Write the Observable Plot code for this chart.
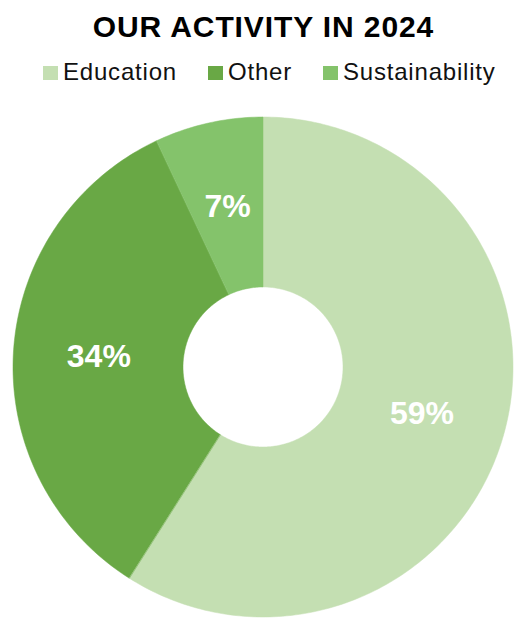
<!DOCTYPE html>
<html>
<head>
<meta charset="utf-8">
<script src="https://cdn.jsdelivr.net/npm/d3@7"></script>
<script src="https://cdn.jsdelivr.net/npm/@observablehq/plot@0.6"></script>
<style>
  html, body { margin: 0; padding: 0; background: #fff; }
  body { width: 515px; font-family: "Liberation Sans", Arial, Helvetica, sans-serif; }
  #title { padding-top: 10px; height: 34px; line-height: 34px; font-size: 30px; font-weight: bold; text-align: center; color: #000; padding-left: 12px; letter-spacing: 0.9px; }
  #legend { margin-top: 14px; height: 28px; line-height: 28px; font-size: 24px; color: #111; display: flex; justify-content: flex-start; padding-left: 43px; letter-spacing: 0.8px; }
  .item { display: flex; align-items: center; margin-right: 31px; }
  .sw { width: 15px; height: 14px; margin-right: 5px; margin-top: 2px; }
  #chart svg { display: block; }
</style>
</head>
<body>
<div id="title">OUR ACTIVITY IN 2024</div>
<div id="legend"></div>
<div id="chart"></div>
<script>
const categories = ["Education", "Other", "Sustainability"];
const values = [59, 34, 7];
const labels = ["59%", "34%", "7%"];
const colors = ["#c4dfb2", "#69a845", "#84c36b"];

const W = 515, H = 534;
const cx = 263, cy = 281, R = 250, r = 80;

// legend
const legend = document.getElementById("legend");
categories.forEach((c, i) => {
  const it = document.createElement("div");
  it.className = "item";
  const sw = document.createElement("div");
  sw.className = "sw";
  sw.style.background = colors[i];
  const tx = document.createElement("span");
  tx.textContent = c;
  it.appendChild(sw); it.appendChild(tx);
  legend.appendChild(it);
});

// build slices
const total = d3.sum(values);
let acc = 0;
const ringPts = [];
const labelPts = [];
categories.forEach((c, i) => {
  const a0 = acc / total * 2 * Math.PI;
  acc += values[i];
  const a1 = acc / total * 2 * Math.PI;
  const n = Math.max(8, Math.ceil((a1 - a0) / (2 * Math.PI) * 360));
  for (let k = 0; k <= n; k++) {
    const a = a0 + (a1 - a0) * k / n;
    ringPts.push({
      cat: c,
      xo: cx + R * Math.sin(a), yo: cy - R * Math.cos(a),
      xi: cx + r * Math.sin(a), yi: cy - r * Math.cos(a)
    });
  }
  const am = (a0 + a1) / 2, rm = (R + r) / 2;
  labelPts.push({cat: c, label: labels[i], x: cx + rm * Math.sin(am), y: cy - rm * Math.cos(am)});
});

const plot = Plot.plot({
  width: W, height: H, margin: 0,
  x: {domain: [0, W], range: [0, W], axis: null},
  y: {domain: [0, H], range: [0, H], axis: null},
  color: {domain: categories, range: colors},
  marks: [
    Plot.area(ringPts, {x1: "xo", y1: "yo", x2: "xi", y2: "yi", z: "cat", fill: "cat", stroke: "cat", strokeWidth: 0.5, curve: "linear"}),
    Plot.text(labelPts, {x: "x", y: "y", text: "label", fill: "white", fontSize: 32, fontWeight: "bold", fontFamily: "Liberation Sans, Arial, sans-serif"})
  ]
});
document.getElementById("chart").appendChild(plot);
</script>
</body>
</html>
